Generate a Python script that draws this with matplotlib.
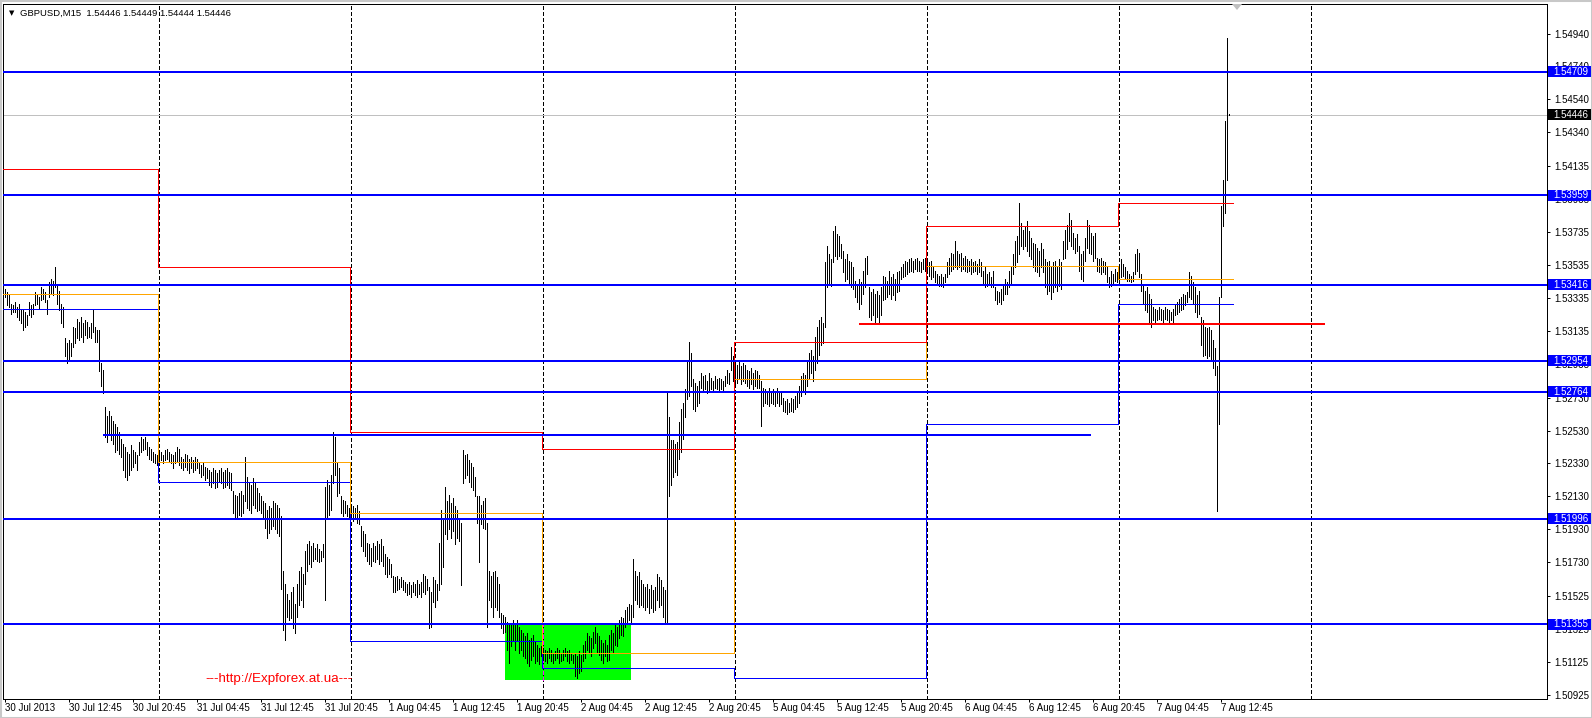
import numpy as np
import matplotlib
matplotlib.use('Agg')
import matplotlib.pyplot as plt
from matplotlib.patches import Rectangle, Polygon
from matplotlib.transforms import blended_transform_factory

plt.rcParams['font.family'] = ['Liberation Sans', 'DejaVu Sans']
plt.rcParams['lines.scale_dashes'] = False

# GBPUSD M15 bars, 30 Jul 2013 04:45 .. 7 Aug 13:45
# high / low in pips above 1.5000
bar_high = [
    339, 337, 335, 330, 329, 331, 328, 330, 327, 326,
    325, 323, 331, 329, 330, 337, 336, 334, 340, 339,
    337, 332, 343, 345, 344, 352, 342, 338, 330, 328,
    309, 306, 308, 306, 316, 315, 321, 319, 322, 318,
    320, 319, 316, 318, 327, 316, 314, 314, 294, 290,
    267, 262, 265, 262, 259, 257, 255, 252, 248, 245,
    243, 240, 239, 244, 241, 240, 238, 246, 249, 248,
    249, 246, 243, 242, 240, 239, 238, 239, 240, 238,
    241, 242, 240, 239, 238, 240, 243, 242, 237, 236,
    239, 238, 236, 237, 235, 237, 236, 234, 232, 233,
    231, 230, 229, 228, 230, 229, 227, 229, 230, 228,
    229, 230, 228, 227, 216, 214, 213, 215, 216, 214,
    237, 225, 222, 220, 224, 221, 218, 215, 213, 210,
    209, 205, 207, 206, 210, 209, 208, 206, 201, 168,
    160, 154, 150, 155, 158, 148, 160, 168, 170, 166,
    180, 184, 186, 183, 185, 182, 184, 181, 180, 184,
    219, 223, 220, 226, 252, 249, 233, 230, 213, 211,
    210, 208, 206, 208, 207, 206, 208, 204, 195, 192,
    190, 185, 184, 182, 185, 183, 186, 184, 187, 183,
    178, 176, 175, 172, 165, 164, 165, 163, 164, 162,
    161, 160, 161, 159, 161, 160, 162, 160, 161, 166,
    165, 163, 158, 155, 164, 162, 160, 185, 205, 200,
    219, 210, 214, 209, 212, 207, 205, 200, 197, 241,
    238, 239, 235, 233, 231, 225, 213, 213, 208, 210,
    212, 197, 168, 165, 167, 168, 164, 160, 142, 141,
    140, 137, 136, 135, 138, 136, 138, 134, 132, 130,
    128, 130, 126, 127, 129, 125, 123, 121, 122, 121,
    120, 119, 121, 120, 118, 119, 121, 120, 118, 120,
    121, 119, 120, 118, 117, 118, 116, 119, 117, 123,
    125, 130, 128, 127, 131, 134, 130, 128, 126, 124,
    126, 123, 129, 132, 130, 135, 134, 138, 140, 139,
    144, 146, 148, 147, 175, 168, 165, 167, 162, 160,
    158, 160, 157, 159, 156, 158, 166, 164, 162, 158,
    156, 276, 261, 247, 247, 245, 246, 258, 266, 270,
    278, 296, 307, 300, 284, 282, 280, 283, 288, 286,
    287, 283, 288, 285, 283, 286, 284, 285, 284, 283,
    286, 290, 288, 304, 298, 295, 293, 295, 292, 294,
    293, 290, 289, 291, 288, 290, 289, 287, 283, 279,
    278, 277, 279, 276, 278, 276, 279, 277, 276, 273,
    271, 272, 270, 273, 272, 274, 276, 280, 286, 288,
    287, 295, 300, 302, 298, 310, 316, 320, 322, 318,
    355, 365, 360, 357, 374, 377, 372, 371, 366, 362,
    357, 360, 356, 355, 352, 344, 342, 345, 343, 350,
    358, 359, 340, 337, 339, 336, 338, 335, 340, 347,
    346, 344, 350, 346, 348, 345, 349, 350, 352, 354,
    356, 355, 357, 358, 356, 357, 358, 356, 355, 357,
    358, 357, 355, 356, 353, 350, 348, 347, 348, 346,
    348, 355, 358, 361, 360, 368, 362, 360, 361, 358,
    359, 357, 356, 357, 355, 356, 354, 357, 355, 350,
    352, 348, 349, 346, 350, 340, 338, 337, 339, 341,
    345, 343, 350, 352, 360, 368, 371, 391, 379, 375,
    377, 380, 374, 370, 367, 366, 364, 362, 367, 363,
    357, 355, 356, 352, 355, 356, 353, 357, 355, 368,
    375, 378, 385, 381, 373, 370, 372, 365, 360, 362,
    370, 381, 378, 373, 371, 373, 358, 357, 358, 356,
    355, 352, 346, 350, 348, 351, 349, 352, 357, 354,
    352, 350, 348, 347, 349, 360, 363, 361, 348, 342,
    338, 340, 336, 333, 328, 327, 326, 328, 327, 326,
    328, 327, 326, 325, 327, 329, 331, 333, 334, 336,
    335, 337, 349, 347, 343, 340, 335, 338, 322, 320,
    316, 315, 316, 314, 308, 303, 292, 334, 389, 405,
    441, 491, 444.9,
]
bar_low = [
    334, 329, 328, 324, 325, 325, 322, 320, 318, 314,
    316, 317, 323, 322, 324, 329, 330, 327, 332, 333,
    331, 324, 334, 336, 335, 340, 330, 326, 318, 316,
    298, 294, 296, 298, 304, 306, 309, 308, 310, 307,
    311, 309, 310, 309, 313, 307, 307, 289, 280, 276,
    249, 246, 250, 247, 245, 240, 241, 239, 237, 229,
    225, 223, 226, 229, 231, 233, 229, 238, 240, 241,
    242, 238, 236, 235, 234, 233, 232, 234, 235, 233,
    235, 236, 234, 233, 230, 233, 234, 232, 230, 229,
    231, 229, 227, 230, 228, 229, 230, 227, 225, 226,
    223, 224, 220, 219, 221, 218, 219, 222, 221, 218,
    219, 220, 218, 217, 203, 200, 199, 202, 201, 203,
    210, 206, 205, 203, 208, 206, 204, 205, 203, 200,
    194, 188, 191, 193, 195, 193, 191, 189, 157, 132,
    126, 140, 138, 139, 133, 130, 140, 147, 150, 146,
    160, 168, 172, 170, 174, 175, 174, 173, 174, 176,
    150, 199, 202, 205, 221, 226, 213, 215, 203, 201,
    203, 201, 200, 199, 198, 200, 197, 196, 183, 180,
    177, 174, 172, 171, 174, 173, 175, 172, 174, 171,
    166, 164, 166, 164, 155, 155, 156, 157, 158, 156,
    155, 153, 154, 152, 155, 153, 152, 154, 152, 155,
    154, 156, 133, 134, 149, 146, 150, 156, 160, 170,
    190, 187, 193, 188, 192, 184, 188, 186, 159, 221,
    224, 226, 222, 219, 217, 213, 197, 173, 196, 194,
    193, 134, 150, 146, 140, 146, 144, 140, 133, 130,
    131, 120, 112, 122, 125, 120, 126, 118, 120, 116,
    115, 112, 110, 114, 116, 112, 113, 111, 116, 114,
    113, 112, 115, 113, 112, 114, 115, 112, 113, 114,
    116, 113, 112, 114, 112, 104, 103, 106, 107, 113,
    115, 120, 118, 116, 121, 124, 118, 117, 114, 112,
    116, 113, 114, 120, 118, 123, 122, 127, 129, 128,
    134, 136, 138, 137, 140, 150, 148, 146, 147, 146,
    144, 146, 142, 145, 143, 144, 150, 146, 147, 140,
    137, 137, 213, 220, 225, 228, 226, 236, 240, 248,
    261, 272, 274, 280, 266, 265, 268, 270, 279, 277,
    278, 276, 277, 278, 277, 279, 278, 277, 278, 277,
    280, 282, 281, 290, 283, 281, 282, 284, 281, 283,
    282, 280, 279, 281, 278, 280, 279, 279, 256, 268,
    270, 269, 268, 270, 269, 268, 270, 268, 269, 265,
    264, 263, 264, 265, 264, 266, 267, 270, 274, 277,
    275, 280, 285, 288, 283, 290, 294, 299, 305, 306,
    316, 340, 342, 341, 355, 359, 357, 359, 358, 349,
    344, 345, 342, 340, 339, 334, 331, 327, 330, 336,
    340, 348, 322, 320, 323, 318, 322, 319, 323, 332,
    333, 334, 336, 333, 335, 332, 337, 338, 345, 346,
    347, 348, 349, 350, 349, 351, 350, 350, 349, 351,
    350, 349, 347, 345, 346, 343, 342, 341, 341, 340,
    343, 346, 348, 350, 351, 352, 351, 352, 350, 351,
    350, 349, 350, 348, 349, 350, 348, 349, 347, 342,
    340, 341, 342, 340, 340, 332, 330, 331, 330, 332,
    336, 336, 340, 342, 348, 352, 355, 360, 365, 363,
    365, 362, 359, 357, 352, 350, 349, 347, 352, 349,
    340, 336, 338, 333, 337, 340, 338, 341, 339, 357,
    358, 363, 368, 365, 363, 361, 362, 350, 345, 344,
    356, 364, 361, 360, 356, 358, 350, 349, 348, 349,
    348, 343, 340, 341, 342, 344, 343, 344, 346, 347,
    345, 344, 344, 343, 344, 348, 350, 346, 338, 330,
    326, 325, 318, 316, 320, 319, 320, 321, 320, 319,
    321, 320, 319, 320, 319, 323, 324, 325, 326, 327,
    329, 331, 334, 333, 330, 325, 322, 324, 305, 298,
    299, 297, 298, 296, 291, 287, 204, 257, 334, 377,
    385, 405, 444.4,
]

# time axis labels, one every 32 bars (8 hours)
time_labels = ['30 Jul 2013', '30 Jul 12:45', '30 Jul 20:45', '31 Jul 04:45',
               '31 Jul 12:45', '31 Jul 20:45', '1 Aug 04:45', '1 Aug 12:45',
               '1 Aug 20:45', '2 Aug 04:45', '2 Aug 12:45', '2 Aug 20:45',
               '5 Aug 04:45', '5 Aug 12:45', '5 Aug 20:45', '6 Aug 04:45',
               '6 Aug 12:45', '6 Aug 20:45', '7 Aug 04:45', '7 Aug 12:45']

# first bar of each new day (period separators)
day_starts = [77, 173, 269, 365, 461, 557, 653]

# previous day high / close / low lines, one value per day
prev_high = [1.5412, 1.5352, 1.5252, 1.5242, 1.5307, 1.5377, 1.5391]
prev_close = [1.5336, 1.5234, 1.5203, 1.5118, 1.5284, 1.5353, 1.5345]
prev_low = [1.5327, 1.5222, 1.5125, 1.5109, 1.5103, 1.5257, 1.5330]

# horizontal levels
levels = [1.54709, 1.53959, 1.53416, 1.52954, 1.52764, 1.51996, 1.51355]
level_labels = ['1.54709', '1.53959', '1.53416', '1.52954', '1.52764', '1.51996', '1.51355']
short_level = 1.52500
red_level = 1.53177
last_price = 1.54446
title = 'GBPUSD,M15  1.54446 1.54449 1.54444 1.54446'
watermark = '---http://Expforex.at.ua---'

price_ticks = [1.54940, 1.54740, 1.54540, 1.54340, 1.54135, 1.53935, 1.53735,
               1.53535, 1.53335, 1.53135, 1.52935, 1.52730, 1.52530, 1.52330,
               1.52130, 1.51930, 1.51730, 1.51525, 1.51325, 1.51125, 1.50925]

# ---- layout (pixels) ----
W, H = 1592, 718
AX_L, AX_R, AX_T, AX_B = 3, 1547, 4, 699
X0 = 5.4            # pixel of bar 0
BAR_PX = 2.0
PRICE_PER_PX = 6.07e-5
REF_PRICE, REF_PX = 1.5494, 33.5

xmin = (AX_L - X0) / BAR_PX
xmax = (AX_R - X0) / BAR_PX
ymax = REF_PRICE + (REF_PX - AX_T) * PRICE_PER_PX
ymin = REF_PRICE - (AX_B - REF_PX) * PRICE_PER_PX

BLUE = '#0000ff'
RED = '#ff0000'
ORANGE = '#ffa500'
PX = 0.72  # one pixel in points

fig = plt.figure(figsize=(W / 100, H / 100), dpi=100)
ax = fig.add_axes([AX_L / W, 1 - AX_B / H, (AX_R - AX_L) / W, (AX_B - AX_T) / H])
ax.set_xlim(xmin, xmax)
ax.set_ylim(ymin, ymax)

highs = 1.5 + np.array(bar_high) / 1e4
lows = 1.5 + np.array(bar_low) / 1e4
idx = np.arange(len(highs))

# green box
ax.add_patch(Rectangle((249.7, 1.51015), 313 - 249.7, 1.51355 - 1.51015,
                       color='#00ff00', lw=0, zorder=1))

# period separators
for d in day_starts:
    ax.axvline(d, color='black', lw=PX, ls=(0, (2.2, 1.5)), antialiased=False, zorder=1.5)
ax.plot([269, 269], [1.51015, 1.51355], color='#ff00ff', lw=PX, ls=(0, (2.2, 1.5)),
        antialiased=False, zorder=1.6)

# bars
ax.vlines(idx, lows, highs, colors='black', lw=PX, antialiased=False, zorder=2)

# current price line
ax.axhline(last_price, color='#c0c0c0', lw=PX, antialiased=False, zorder=1.8)

# previous day high/close/low steps
step_x = [xmin] + [d - 0.5 for d in day_starts[:len(prev_high) - 1]] + [614]
for vals, col in [(prev_low, BLUE), (prev_close, ORANGE), (prev_high, RED)]:
    ax.step(step_x, vals + [vals[-1]], where='post', color=col, lw=PX,
            antialiased=False, zorder=3)

# horizontal levels
for lv in levels:
    ax.axhline(lv, color=BLUE, lw=2 * PX, antialiased=False, zorder=4)
ax.hlines(short_level, 49, 543, color=BLUE, lw=2 * PX, antialiased=False, zorder=4)
ax.hlines(red_level, 427, 660, color=RED, lw=2 * PX, antialiased=False, zorder=4)

# axes look
for s in ax.spines.values():
    s.set_linewidth(PX)
    s.set_color('black')
ax.yaxis.tick_right()
ax.set_yticks(price_ticks)
ax.set_yticklabels(['%.5f' % v for v in price_ticks])
ax.set_xticks(np.arange(len(time_labels)) * 32)
ax.set_xticklabels(time_labels, ha='left')
ax.tick_params(axis='y', direction='out', length=2.2, width=PX, pad=2.8, labelsize=7)
ax.tick_params(axis='x', direction='out', length=2.2, width=PX, pad=1.0, labelsize=7)

# price labels on the right axis
trans = blended_transform_factory(ax.transAxes, ax.transData)
bx = (1548 - AX_L) / (AX_R - AX_L)
bw = 43 / (AX_R - AX_L)
tx = (1553 - AX_L) / (AX_R - AX_L)
bh = 11 * PRICE_PER_PX
for lv, lab, col in list(zip(levels, level_labels, [BLUE] * len(levels))) + \
        [(last_price, '%.5f' % last_price, 'black')]:
    ax.add_patch(Rectangle((bx, lv - bh / 2), bw, bh, transform=trans, color=col,
                           lw=0, clip_on=False, zorder=10))
    ax.text(tx, lv, lab, transform=trans, color='white', fontsize=7,
            va='center', ha='left', clip_on=False, zorder=11)

# header and watermark
fig.text(12 / W, 1 - 13 / H, '\u25bc', fontsize=5, ha='center', va='center',
         family=['DejaVu Sans'])
fig.text(20 / W, 1 - 13 / H, title, fontsize=6.8, ha='left', va='center')
fig.text(279 / W, 1 - 679 / H, watermark, fontsize=9.6, color=RED, ha='center', va='center')

# chart shift marker
fig.patches.append(Polygon([[1232 / W, 1 - 4 / H], [1242 / W, 1 - 4 / H], [1237 / W, 1 - 10 / H]],
                           closed=True, transform=fig.transFigure, color='#c0c0c0', lw=0))

# window border
fig.patches.append(Rectangle((0, 0), 1, 1, transform=fig.transFigure, fill=False,
                             ec='#c8c8c8', lw=2.2))

fig.savefig('out.png', dpi=100, facecolor='white')
